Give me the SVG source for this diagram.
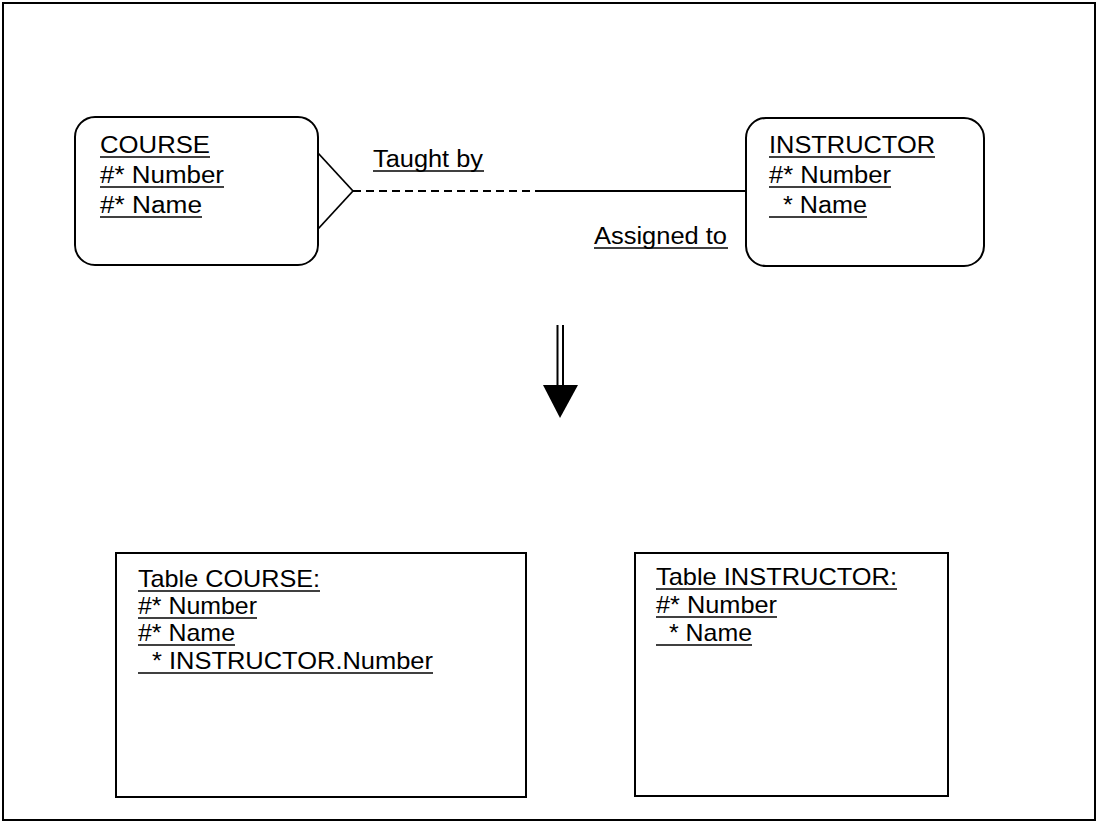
<svg xmlns="http://www.w3.org/2000/svg" width="1098" height="822" viewBox="0 0 1098 822">
<style>
  .box { fill: #fff; stroke: #000; stroke-width: 2; }
  .t { font-family: "Liberation Sans", Arial, sans-serif; fill: #000; }
  .top { font-size: 23px; }
  .tbl { font-size: 24px; }
  .ul { stroke: #000; stroke-width: 1.5; }
  .ln { stroke: #000; stroke-width: 1.8; fill: none; }
</style>
<rect x="0" y="0" width="1098" height="822" fill="#fff"/>
<rect x="3" y="3" width="1092" height="817" fill="none" stroke="#000" stroke-width="2"/>

<g id="connectors">
  <line class="ln" x1="318" y1="153" x2="353" y2="191"/>
  <line class="ln" x1="318" y1="229" x2="353" y2="191"/>
  <line class="ln" x1="353" y1="191" x2="535" y2="191" stroke-dasharray="8 5"/>
  <line class="ln" x1="535" y1="191" x2="746" y2="191"/>
  <text class="t top" x="373" y="167" textLength="110" lengthAdjust="spacingAndGlyphs">Taught by</text>
  <line class="ul" x1="373" y1="171" x2="484" y2="171"/>
  <text class="t top" x="594" y="244" textLength="133" lengthAdjust="spacingAndGlyphs">Assigned to</text>
  <line class="ul" x1="594" y1="248" x2="728" y2="248"/>
</g>

<g id="course-entity">
  <rect class="box" x="75" y="117" width="243" height="148" rx="20" ry="20"/>
  <text class="t top" x="100" y="153" textLength="110" lengthAdjust="spacingAndGlyphs">COURSE</text>
  <line class="ul" x1="100" y1="157" x2="210" y2="157"/>
  <text class="t top" x="100" y="183" textLength="124" lengthAdjust="spacingAndGlyphs">#* Number</text>
  <line class="ul" x1="100" y1="187" x2="224" y2="187"/>
  <text class="t top" x="100" y="213" textLength="102" lengthAdjust="spacingAndGlyphs">#* Name</text>
  <line class="ul" x1="100" y1="217" x2="202" y2="217"/>
</g>

<g id="instructor-entity">
  <rect class="box" x="746" y="118" width="238" height="148" rx="20" ry="20"/>
  <text class="t top" x="769" y="153" textLength="166" lengthAdjust="spacingAndGlyphs">INSTRUCTOR</text>
  <line class="ul" x1="769" y1="157" x2="935" y2="157"/>
  <text class="t top" x="769" y="183" textLength="122" lengthAdjust="spacingAndGlyphs">#* Number</text>
  <line class="ul" x1="769" y1="187" x2="891" y2="187"/>
  <text class="t top" x="783" y="213" textLength="84" lengthAdjust="spacingAndGlyphs">* Name</text>
  <line class="ul" x1="769" y1="217" x2="867" y2="217"/>
</g>

<g id="transform-arrow">
  <line x1="557.5" y1="325" x2="557.5" y2="386" stroke="#000" stroke-width="2"/>
  <line x1="563" y1="325" x2="563" y2="386" stroke="#000" stroke-width="2"/>
  <polygon points="543,385 578,385 560,418" fill="#000"/>
</g>

<g id="table-course">
  <rect class="box" x="116" y="553" width="410" height="244"/>
  <text class="t tbl" x="138" y="587" textLength="182" lengthAdjust="spacingAndGlyphs">Table COURSE:</text>
  <line class="ul" x1="138" y1="591" x2="320" y2="591"/>
  <text class="t tbl" x="138" y="614" textLength="119" lengthAdjust="spacingAndGlyphs">#* Number</text>
  <line class="ul" x1="138" y1="618" x2="257" y2="618"/>
  <text class="t tbl" x="138" y="641" textLength="97" lengthAdjust="spacingAndGlyphs">#* Name</text>
  <line class="ul" x1="138" y1="645" x2="235" y2="645"/>
  <text class="t tbl" x="152" y="669" textLength="281" lengthAdjust="spacingAndGlyphs">* INSTRUCTOR.Number</text>
  <line class="ul" x1="138" y1="673" x2="433" y2="673"/>
</g>

<g id="table-instructor">
  <rect class="box" x="635" y="553" width="313" height="243"/>
  <text class="t tbl" x="656" y="585" textLength="241" lengthAdjust="spacingAndGlyphs">Table INSTRUCTOR:</text>
  <line class="ul" x1="656" y1="589" x2="897" y2="589"/>
  <text class="t tbl" x="656" y="613" textLength="121" lengthAdjust="spacingAndGlyphs">#* Number</text>
  <line class="ul" x1="656" y1="617" x2="777" y2="617"/>
  <text class="t tbl" x="669" y="641" textLength="83" lengthAdjust="spacingAndGlyphs">* Name</text>
  <line class="ul" x1="656" y1="645" x2="752" y2="645"/>
</g>
</svg>
